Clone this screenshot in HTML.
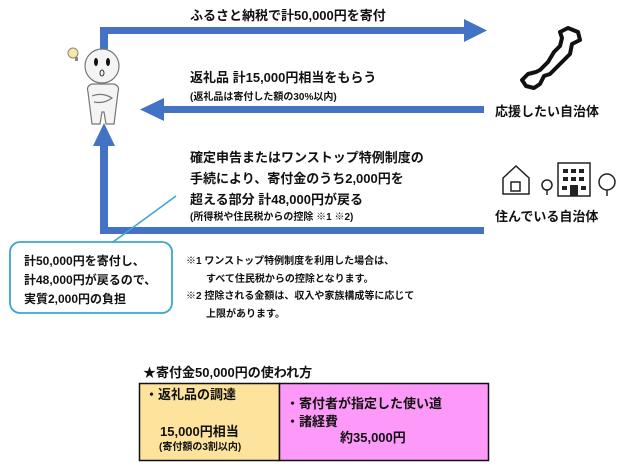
<!DOCTYPE html>
<html><head><meta charset="utf-8"><style>
body{margin:0;width:630px;height:470px;background:#fff;position:relative;overflow:hidden;font-family:"Liberation Sans","Noto Sans CJK JP",sans-serif;color:#111;font-weight:bold}
.t{position:absolute;white-space:nowrap;font-size:13px;line-height:15px}
.s{font-size:10px;line-height:12px}
</style></head><body>
<svg width="630" height="470" style="position:absolute;left:0;top:0">
<g fill="#4472C4">
<rect x="100" y="27" width="8" height="22"/>
<rect x="100" y="27" width="366" height="7"/>
<polygon points="464,19 487,30.5 464,42"/>
<rect x="162" y="106" width="322" height="7"/>
<polygon points="164,98 140,109.5 164,121"/>
<rect x="100" y="142" width="8" height="92"/>
<polygon points="93,146 104,123 115,146"/>
<rect x="100" y="227" width="384" height="7"/>
</g>
<g stroke="#777" stroke-width="1.2" fill="#f4f4f4">
<path d="M88 92 Q86 86 92 84 L114 84 Q120 86 118 92 L116 108 L114 124 L106 124 L104 112 L102 112 L100 124 L92 124 L90 108 Z"/>
<circle cx="102" cy="66" r="17"/>
<path d="M92 96 Q102 92 112 98 Q104 104 94 102"/>
</g>
<ellipse cx="96" cy="62" rx="2" ry="4" fill="#111"/><ellipse cx="108" cy="62" rx="2" ry="4" fill="#111"/>
<ellipse cx="102" cy="73" rx="2" ry="3" fill="none" stroke="#333"/>
<circle cx="73" cy="53" r="5" fill="#f6eaa0" stroke="#888"/><rect x="75" y="57" width="3" height="4" fill="#888"/>
<path d="M568 28 L578 32 L580 40 L572 44 L570 54 L562 62 L556 68 L550 74 L544 76 L540 84 L534 88 L526 86 L522 80 L528 74 L536 72 L540 70 L548 62 L554 52 L560 46 L562 38 L560 32 Z" fill="none" stroke="#111" stroke-width="4" stroke-linejoin="round"/>
<g fill="none" stroke="#222" stroke-width="1.5">
<path d="M503 178 L516 166 L529 178 L529 194 L503 194 Z"/><rect x="511" y="182" width="9" height="9"/>
<circle cx="547" cy="185" r="5"/><line x1="547" y1="190" x2="547" y2="195"/>
<rect x="558" y="163" width="32" height="33"/>
<circle cx="607" cy="182" r="8"/><line x1="607" y1="190" x2="607" y2="196"/>
</g>
<g fill="#222"><rect x="563" y="169" width="5" height="4"/><rect x="571" y="169" width="5" height="4"/><rect x="579" y="169" width="5" height="4"/><rect x="563" y="177" width="5" height="4"/><rect x="571" y="177" width="5" height="4"/><rect x="579" y="177" width="5" height="4"/><rect x="570" y="185" width="8" height="11"/><rect x="562" y="186" width="5" height="4"/><rect x="581" y="186" width="5" height="4"/></g>
<line x1="113" y1="242" x2="176" y2="196" stroke="#3aa6d0" stroke-width="1.5"/>
<rect x="10" y="242" width="162" height="71" rx="10" fill="#fff" stroke="#3aa6d0" stroke-width="1.8"/>
<rect x="139.5" y="383.5" width="140" height="77" fill="#fde39b" stroke="#111" stroke-width="1.5"/>
<rect x="279.5" y="383.5" width="209" height="77" fill="#fd99f8" stroke="#111" stroke-width="1.5"/>
</svg>
<div class="t" style="left:190px;top:8px">ふるさと納税で計50,000円を寄付</div>
<div class="t" style="left:190px;top:70px">返礼品 計15,000円相当をもらう</div>
<div class="t s" style="left:190px;top:92px">(返礼品は寄付した額の30%以内)</div>
<div class="t" style="left:495px;top:104px">応援したい自治体</div>
<div class="t" style="left:190px;top:147px;line-height:21px">確定申告またはワンストップ特例制度の<br>手続により、寄付金のうち2,000円を<br>超える部分 計48,000円が戻る</div>
<div class="t s" style="left:190px;top:212px">(所得税や住民税からの控除 ※1 ※2)</div>
<div class="t" style="left:495px;top:209px">住んでいる自治体</div>
<div class="t s" style="left:24px;top:252px;font-size:12px;line-height:19px">計50,000円を寄付し、<br>計48,000円が戻るので、<br>実質2,000円の負担</div>
<div class="t s" style="left:186px;top:253px;line-height:17.5px">※1 ワンストップ特例制度を利用した場合は、<br>　　すべて住民税からの控除となります。<br>※2 控除される金額は、収入や家族構成等に応じて<br>　　上限があります。</div>
<div class="t" style="left:143px;top:365px">★寄付金50,000円の使われ方</div>
<div class="t" style="left:145px;top:387px">・返礼品の調達</div>
<div class="t" style="left:160px;top:424px">15,000円相当</div>
<div class="t s" style="left:159px;top:442px">(寄付額の3割以内)</div>
<div class="t" style="left:286px;top:395px;line-height:18px">・寄付者が指定した使い道<br>・諸経費</div>
<div class="t" style="left:340px;top:430px">約35,000円</div>
</body></html>
